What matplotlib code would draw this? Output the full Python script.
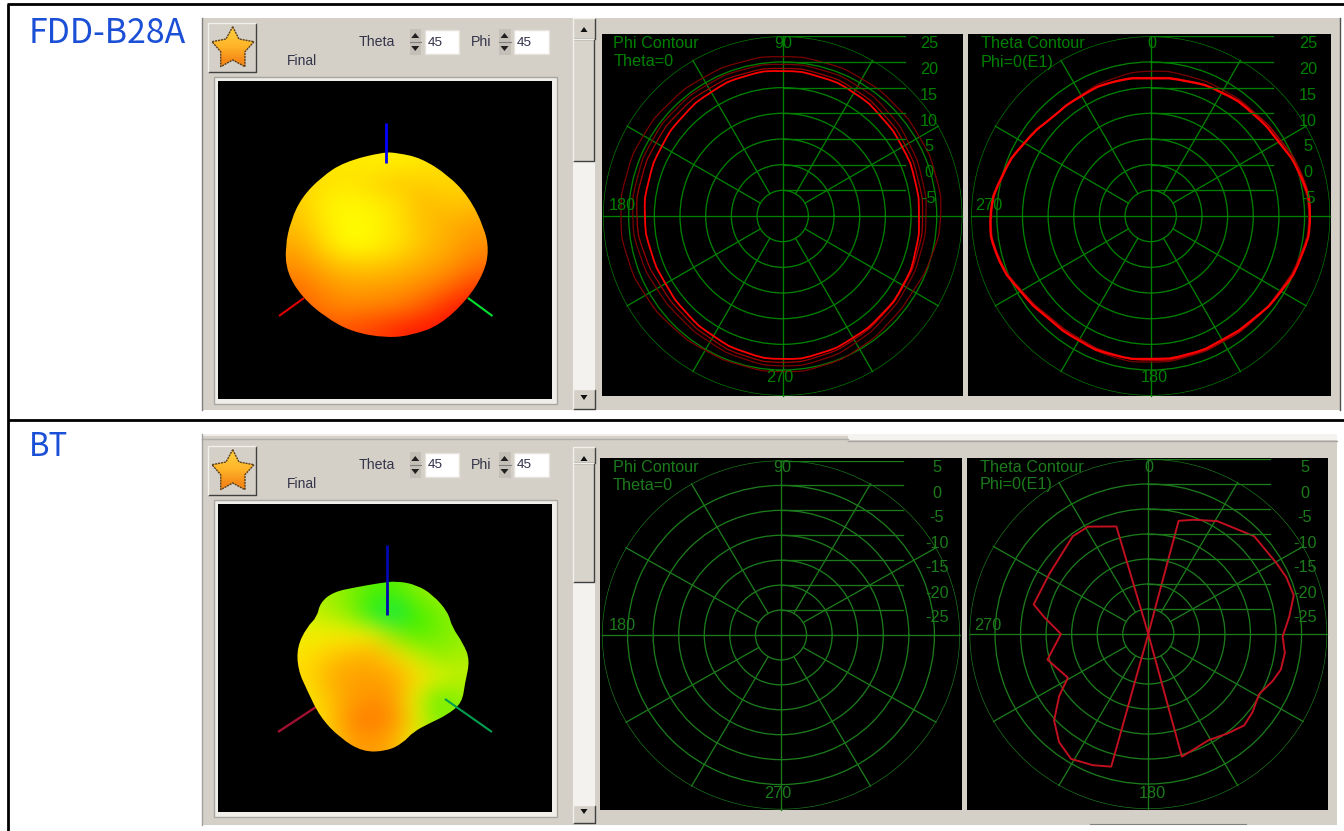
import numpy as np
import matplotlib
matplotlib.use("Agg")
import matplotlib.pyplot as plt
from matplotlib.patches import Rectangle, Polygon, PathPatch
from matplotlib.path import Path
from matplotlib.colors import to_rgb

W, H = 1344, 831
GRAY = "#d4d0c8"
SANS = "Liberation Sans"

# ---- values -----------------------------------------------------------
section_titles = ["FDD-B28A", "BT"]
spin_values = ["45", "45"]
scale_top = ["25", "20", "15", "10", "5", "0", "-5"]
scale_bt = ["5", "0", "-5", "-10", "-15", "-20", "-25"]
db_rings_top = [-5, 0, 5, 10, 15, 20, 25]
db_rings_bt = [-25, -20, -15, -10, -5, 0, 5]
spokes_deg = [0, 30, 60, 90, 120, 150, 180, 210, 240, 270, 300, 330]

angles_15 = [0, 15, 30, 45, 60, 75, 90, 105, 120, 135, 150, 165, 180,
             195, 210, 225, 240, 255, 270, 285, 300, 315, 330, 345]

phi_main = [16.6, 16.8, 17.0, 17.3, 17.9, 18.2, 18.4, 18.4, 18.0, 17.6, 17.3, 17.1, 17.0,
            16.7, 16.4, 16.7, 17.1, 17.7, 18.05, 17.9, 17.5, 17.3, 17.2, 16.9]
phi_dark_a = [21.0, 21.0, 20.9, 20.9, 21.0, 21.1, 21.2, 21.2, 21.2, 21.3, 21.5, 21.6, 21.7,
              21.5, 21.0, 20.6, 20.3, 20.3, 20.5, 20.4, 19.9, 19.4, 19.3, 20.2]
phi_dark_b = [18.05, 18.2, 18.5, 19.0, 19.4, 19.6, 19.7, 19.7, 19.6, 19.6, 19.5, 19.4, 19.4,
              19.0, 18.4, 18.2, 18.5, 19.0, 19.4, 19.2, 18.6, 18.1, 17.9, 17.9]
phi_dark_c = [17.4, 17.4, 17.7, 18.0, 18.5, 18.8, 18.9, 18.9, 18.8, 18.7, 18.6, 18.6, 18.6,
              18.1, 17.4, 17.4, 17.8, 18.4, 18.7, 18.4, 17.9, 17.5, 17.3, 17.3]

theta_main = [16.8, 17.3, 17.9, 18.3, 18.8, 20.5, 21.4, 20.6, 19.5, 18.4, 17.9, 18.1, 17.9,
              18.2, 18.1, 18.2, 19.4, 21.2, 21.6, 20.2, 18.6, 17.1, 17.1, 17.3]
theta_dark_a = [18.4, 18.3, 18.4, 18.7, 19.2, 20.2, 21.2, 20.3, 19.1, 18.6, 18.3, 18.5, 18.6,
                18.6, 18.0, 17.9, 19.1, 21.0, 21.4, 20.0, 18.5, 17.0, 17.3, 17.9]
theta_dark_b = [17.0, 17.4, 18.0, 18.6, 19.4, 20.8, 21.5, 20.4, 19.2, 18.7, 18.3, 18.3, 18.3,
                18.0, 17.7, 17.8, 19.2, 21.0, 21.5, 20.1, 18.5, 17.1, 17.2, 17.4]

bt_theta_deg = [14.7, 14.7, 21.2, 30.8, 46.7, 60.3, 67.2, 74.8, 82.9, 91.1, 98.1, 105.3, 111.1,
                119.0, 127.5, 134.3, 142.2, 150.9, 165.0, 165.0, 195.3, 195.3, 202.5, 211.2, 218.9,
                226.8, 234.6, 241.0, 255.4, 270.0, 279.5, 284.8, 301.7, 322.9, 331.2, 343.8, 343.8]
bt_theta_db = [-30, -6.6, -5.5, -3.7, -1.5, -1.2, -0.7, -0.5, -2.2, -3.7, -3.0, -3.1, -3.9,
               -5.2, -4.3, -3.8, -4.8, -5.7, -4.6, -30, -30, -2.5, -1.6, -0.8, -2.2,
               -4.7, -8.6, -12.0, -9.6, -12.9, -9.3, -6.8, -7.2, -5.5, -5.5, -7.6, -30]

# colour tables of the two 3-D bodies (rows top to bottom)
body_top = [["FFE800", "FFE800", "FFE800", "FFF000", "FFF000", "FFE800", "FFE000", "FFD800"],
            ["FFD800", "FFE000", "FFE800", "FFD800", "FFC800", "FFD000", "FFD800", "FFD000"],
            ["FFC800", "FFF000", "FFF800", "FFF000", "FFE000", "FFB800", "FFC800", "FFC000"],
            ["FFC000", "FFE800", "FFFF00", "FFF800", "FFE000", "FFC000", "FFB000", "FFA000"],
            ["FFA800", "FFD800", "FFFF00", "FFF400", "FFE000", "FFC000", "FFA800", "FF9000"],
            ["FF9000", "FFB000", "FFC800", "FFC800", "FFBC00", "FFA800", "FF9800", "FF7000"],
            ["FF7000", "FF9000", "FFA000", "FFA000", "FF9800", "FF8800", "FF6800", "FF4000"],
            ["FF6000", "FF7800", "FF8800", "FF8000", "FF7800", "FF5800", "FF2800", "FF1000"],
            ["FF5000", "FF5800", "FF5000", "FF4000", "FF2800", "FF1800", "FF1000", "FF0000"]]
body_bt = [["A0F000", "A0F000", "80F000", "50F000", "50F000", "80F000", "A0F000", "A0F000"],
           ["D0F000", "B0F000", "80F000", "20F020", "00E850", "40F000", "70F000", "90F000"],
           ["F0F000", "F8F000", "F8F000", "F0F000", "90F000", "50F000", "70F000", "90F000"],
           ["FFE000", "FFC800", "FFB800", "FFB000", "FFD800", "D0F000", "90F000", "A8F000"],
           ["FFD800", "FFB000", "FFA000", "FFA000", "FFA800", "FFD800", "E8F000", "C0F000"],
           ["F8E800", "FFC000", "FFA000", "FF9000", "FFA000", "E8F000", "60F000", "90F000"],
           ["FFE800", "FFC800", "FF8800", "FF7800", "FF9000", "F0E800", "80F000", "90F000"],
           ["FFE800", "FFD000", "FFA000", "FF9800", "FFB000", "E8F000", "90F000", "90F000"]]
outline_top = [(383, 152), (344, 162), (321.5, 177), (302, 197), (291, 220), (285, 247), (287, 273),
               (302, 297), (325, 317), (352, 332), (387, 338), (413, 335), (440, 325), (467, 300),
               (484, 273), (489, 250), (484, 227), (469, 197), (448, 175), (421, 158), (398, 153)]
outline_bt = [(397, 581), (417, 585), (433, 595), (448, 612), (452, 627), (463, 643), (470, 660),
              (465, 683), (462, 703), (447, 715), (430, 723), (413, 732), (403, 743), (387, 751),
              (363, 752), (340, 738), (320, 717), (307, 690), (298, 670), (297, 647), (307, 627),
              (317, 617), (320, 603), (333, 592), (357, 587), (380, 583)]
star_shape = [(232.7, 26.7), (239, 39), (254, 41.7), (245, 51.7), (245, 66.7), (232.7, 60),
              (220.7, 66.7), (220.7, 51.7), (212, 41.7), (226, 39)]

# ---- figure and base layer in pixel coordinates --------------------------
fig = plt.figure(figsize=(W / 100, H / 100), dpi=100, facecolor="white")


def layer(z):
    a = fig.add_axes([0, 0, 1, 1], zorder=z)
    a.set_xlim(0, W)
    a.set_ylim(H, 0)
    a.axis("off")
    a.patch.set_alpha(0)
    return a


base = layer(0)
top = layer(5)


def rect(a, x0, y0, x1, y1, fc, ec="none", lw=0, z=1):
    a.add_patch(Rectangle((x0, y0), x1 - x0, y1 - y0, fc=fc, ec=ec, lw=lw, zorder=z))


def hexgrid(tbl):
    return np.array([[to_rgb("#" + c) for c in row] for row in tbl])


def raised(a, x0, y0, x1, y1, face=GRAY):
    rect(a, x0, y0, x1, y1, face, z=3)
    a.plot([x0, x1, x1], [y1, y1, y0], color="#404040", lw=1, zorder=4, solid_capstyle="butt")
    a.plot([x0, x0, x1], [y1, y0, y0], color="#f2f0ea", lw=1, zorder=4, solid_capstyle="butt")


def smooth_path(points):
    """Closed outline: listed points act as quadratic Bezier control points."""
    n = len(points)
    mids = [((points[i][0] + points[(i + 1) % n][0]) / 2, (points[i][1] + points[(i + 1) % n][1]) / 2)
            for i in range(n)]
    verts = [mids[-1]]
    codes = [Path.MOVETO]
    for i in range(n):
        verts += [points[i], mids[i]]
        codes += [Path.CURVE3, Path.CURVE3]
    return Path(verts, codes)


def polar_ring_path(theta_deg, values):
    """Closed curve on a polar axes whose vertices are the listed (angle, dB) readings."""
    th = np.deg2rad(theta_deg)
    n = len(th)
    nxt = np.append(th[1:], th[0] + 2 * np.pi)
    vals = list(values)
    mid_t = (th + nxt) / 2
    mid_r = [(vals[i] + vals[(i + 1) % n]) / 2 for i in range(n)]
    verts = [(mid_t[-1] - 2 * np.pi, mid_r[-1])]
    codes = [Path.MOVETO]
    for i in range(n):
        verts += [(th[i], vals[i]), (mid_t[i], mid_r[i])]
        codes += [Path.CURVE3, Path.CURVE3]
    return Path(verts, codes)


# black frame
for (xs, ys, lw) in [([7, W], [4, 4], 2.0), ([8, 8], [4, H], 2.0), ([8, W], [419.5, 419.5], 2.0)]:
    base.plot(xs, ys, color="black", lw=lw, solid_capstyle="butt", zorder=10)

# gray panels
rect(base, 202, 18, 1339.5, 410, GRAY)
rect(base, 202, 434, 1337, 825, GRAY)
rect(base, 202, 434, 848, 436, "#f0eee9", z=2)
rect(base, 848, 434, 1337, 440, "#f4f3f0", z=2)
base.plot([202, 848], [439, 439], color="#b0aea8", lw=1, zorder=2)
base.plot([848, 1337], [441, 441], color="#a8a6a0", lw=1, zorder=2)
base.plot([202, 202], [18, 410], color="#808080", lw=1, zorder=2)
base.plot([202, 202], [434, 825], color="#a0a0a0", lw=1, zorder=2)
base.plot([1339.5, 1339.5], [18, 410], color="#505050", lw=1, zorder=2)
base.plot([1090, 1246], [824, 824], color="#808080", lw=0.8, zorder=2)

# section titles
top.text(29, 33.5, section_titles[0], color="#1a4fd6", fontsize=24.4, fontfamily="Noto Sans CJK SC",
         fontweight="light", va="center", ha="left")
top.text(29, 447.5, section_titles[1], color="#1a4fd6", fontsize=22.5, fontfamily="Noto Sans CJK SC",
         fontweight="light", va="center", ha="left")


def spinner(a, x0, x1, y0, y1):
    rect(a, x0, y0, x1, y1, "#c4c0b8", z=3)
    m = (y0 + y1) / 2
    a.plot([x0, x1], [m, m], color="#808080", lw=0.8, zorder=4)
    c = (x0 + x1) / 2
    a.add_patch(Polygon([(c - 4, y0 + 9), (c + 4, y0 + 9), (c, y0 + 4)], fc="#202020", zorder=5))
    a.add_patch(Polygon([(c - 4, y1 - 9), (c + 4, y1 - 9), (c, y1 - 4)], fc="#202020", zorder=5))


def widget(dy, win_top, win_bot):
    raised(base, 208, 23 + dy, 256, 72 + dy)
    verts = [(x, y + dy) for x, y in star_shape]
    im = base.imshow(hexgrid([["FFC838", "FFC838"], ["FFB428", "FFB428"], ["F58A18", "F58A18"]]),
                     extent=(212, 254, 67 + dy, 26 + dy), aspect="auto", zorder=5,
                     interpolation="bilinear")
    star = Polygon(verts, fc="none", ec="#5a4020", lw=1.0, ls=(0, (1.5, 0.6)), zorder=6)
    base.add_patch(star)
    im.set_clip_path(Polygon(verts, transform=base.transData))
    top.text(359, 42 + dy, "Theta", fontsize=10.2, color="#34344a", family=SANS, va="center")
    top.text(471, 42 + dy, "Phi", fontsize=10.2, color="#34344a", family=SANS, va="center")
    top.text(287, 61 + dy, "Final", fontsize=10, color="#34344a", family=SANS, va="center")
    for sx0, sx1, bx0, bx1, val in [(409.5, 421, 425, 459, spin_values[0]),
                                    (498.5, 510.5, 513.5, 548.5, spin_values[1])]:
        spinner(base, sx0, sx1, 29 + dy, 55 + dy)
        rect(base, bx0, 30 + dy, bx1, 54 + dy, "white", ec="#e6e3dc", lw=1, z=3)
        top.text(bx0 + 3, 42.5 + dy, val, fontsize=9.7, color="#303048", family=SANS, va="center")
    rect(base, 214, win_top - 4, 557, win_bot + 5, "#f0eee8", ec="#a8a6a0", lw=1, z=2)
    rect(base, 218, win_top, 552, win_bot, "black", z=3)


widget(0, 81, 399)
widget(423, 504, 812)


def scrollbar(y0, y1, up, thumb, down):
    rect(base, 572.5, y0, 595, y1, "#f3f2ef", z=3)
    raised(base, 573, y0, 595, up)
    raised(base, 573, up, 594, thumb, face="#d8d4cc")
    raised(base, 573, down, 595, y1)
    c = 584
    base.add_patch(Polygon([(c - 3.5, y0 + 14), (c + 3.5, y0 + 14), (c, y0 + 9)], fc="#101010", zorder=6))
    base.add_patch(Polygon([(c - 3.5, y1 - 14), (c + 3.5, y1 - 14), (c, y1 - 9)], fc="#101010", zorder=6))


scrollbar(18, 409, 39, 161, 389)
scrollbar(447, 823, 463, 582, 805)


def body(grid, outline, axis_lines):
    xs = [p[0] for p in outline]
    ys = [p[1] for p in outline]
    im = base.imshow(hexgrid(grid), extent=(min(xs), max(xs), max(ys), min(ys)), aspect="auto",
                     interpolation="bicubic", zorder=6)
    im.set_clip_path(PathPatch(smooth_path(outline), transform=base.transData))
    for (x, y, col, lw, z) in axis_lines:
        base.plot(x, y, color=col, lw=lw, zorder=z, solid_capstyle="butt")


body(body_top, outline_top, [([386, 386], [123, 163], "#0000ff", 2.0, 7),
                             ([279, 304], [316, 298], "#e00000", 1.5, 5),
                             ([468, 492.5], [298, 316], "#00e030", 1.5, 7)])
body(body_bt, outline_bt, [([387, 387], [545, 615], "#0008b0", 2.0, 7),
                           ([278, 316], [732, 707], "#a01030", 1.7, 5),
                           ([445, 492], [699, 732], "#00a050", 1.5, 7)])
base.set_xlim(0, W)
base.set_ylim(H, 0)


# ---- contour panels --------------------------------------------------------
def contour(box, cx, cy, rx, ry, rings, labels, label_x, label_y0, label_dy, clockwise, green,
            names, axis_texts, rings_curves, poly_curves):
    rect(base, box[0], box[1], box[2], box[3], "black", z=3)
    pa = fig.add_axes([(cx - rx) / W, 1 - (cy + ry) / H, 2 * rx / W, 2 * ry / H],
                      projection="polar", zorder=2)
    pa.set_aspect("auto")
    pa.patch.set_alpha(0)
    pa.spines["polar"].set_visible(False)
    if clockwise:
        pa.set_theta_zero_location("N")
        pa.set_theta_direction(-1)
    lo = rings[0] - 5
    pa.set_rlim(lo, rings[-1])
    pa.set_rgrids(rings, labels=[""] * len(rings))
    pa.set_thetagrids([])
    pa.grid(True, axis="y", color=green, lw=0.95)
    for d in spokes_deg:
        start = lo if d % 90 == 0 else rings[0]
        pa.plot(np.deg2rad([d, d]), [start, rings[-1]], color=green, lw=0.95, clip_on=False)
    for th, rr, col, lw in rings_curves:
        pa.add_patch(PathPatch(polar_ring_path(th, rr), fc="none", ec=col, lw=lw, clip_on=False, zorder=3))
    for th, rr, col, lw in poly_curves:
        pa.plot(np.deg2rad(th), rr, color=col, lw=lw, clip_on=False, zorder=3)
    pa.set_rlim(lo, rings[-1])

    ca = fig.add_axes(pa.get_position(), zorder=3)
    ca.axis("off")
    ca.patch.set_alpha(0)
    span = rings[-1] - lo
    ca.set_xlim(-span, span)
    ca.set_ylim(-span, span)
    for v in rings:
        ca.plot([0, span * 122 / rx], [v - lo, v - lo], color=green, lw=0.95)

    for i, t in enumerate(labels):
        top.text(label_x, label_y0 + i * label_dy, t, color=green, fontsize=11.7, family=SANS,
                 ha="center", va="center")
    for x, y, t in names:
        top.text(x, y, t, color=green, fontsize=11.7, family=SANS, ha="left", va="center")
    for x, y, t in axis_texts:
        top.text(x, y, t, color=green, fontsize=11.7, family=SANS, ha="center", va="center")


G_TOP = "#008000"
G_BT = "#1c7a1c"
DARK = "#7a0000"
RED = "#ff0000"

contour((601.7, 34.3, 963, 396), 782.7, 216, 179.7, 179.7, db_rings_top, scale_top, 929, 44, 25.7,
        False, G_TOP, [(613, 44, "Phi Contour"), (614, 62, "Theta=0")],
        [(783, 44, "90"), (780, 378, "270"), (622, 205, "180")],
        [(angles_15, phi_dark_a, DARK, 0.9),
         (angles_15, phi_dark_b, DARK, 0.9),
         (angles_15, phi_dark_c, "#a00000", 0.9),
         (angles_15, phi_main, RED, 1.3)], [])
contour((968.3, 34.3, 1331, 396), 1150.7, 216, 179.5, 179.7, db_rings_top, scale_top, 1308, 44, 25.7,
        True, G_TOP, [(981, 44, "Theta Contour"), (981, 62, "Phi=0(E1)")],
        [(1152, 44, "0"), (1154, 378, "180"), (989, 205, "270")],
        [(angles_15, theta_dark_a, DARK, 0.9),
         (angles_15, theta_dark_b, "#a00000", 0.9),
         (angles_15, theta_main, RED, 1.6)], [])
contour((600, 458, 961.7, 810), 781, 635, 179, 174.5, db_rings_bt, scale_bt, 937, 468, 25,
        False, G_BT, [(613, 468, "Phi Contour"), (613, 485, "Theta=0")],
        [(782, 468, "90"), (778, 793, "270"), (622, 625, "180")], [], [])
contour((966.7, 458, 1328, 810), 1148.3, 634, 178.8, 175, db_rings_bt, scale_bt, 1305, 468, 25,
        True, G_BT, [(980, 468, "Theta Contour"), (980, 485, "Phi=0(E1)")],
        [(1149, 468, "0"), (1152, 793, "180"), (988, 625, "270")],
        [], [(bt_theta_deg, bt_theta_db, "#c01020", 1.4)])

fig.savefig("out.png", dpi=100)
